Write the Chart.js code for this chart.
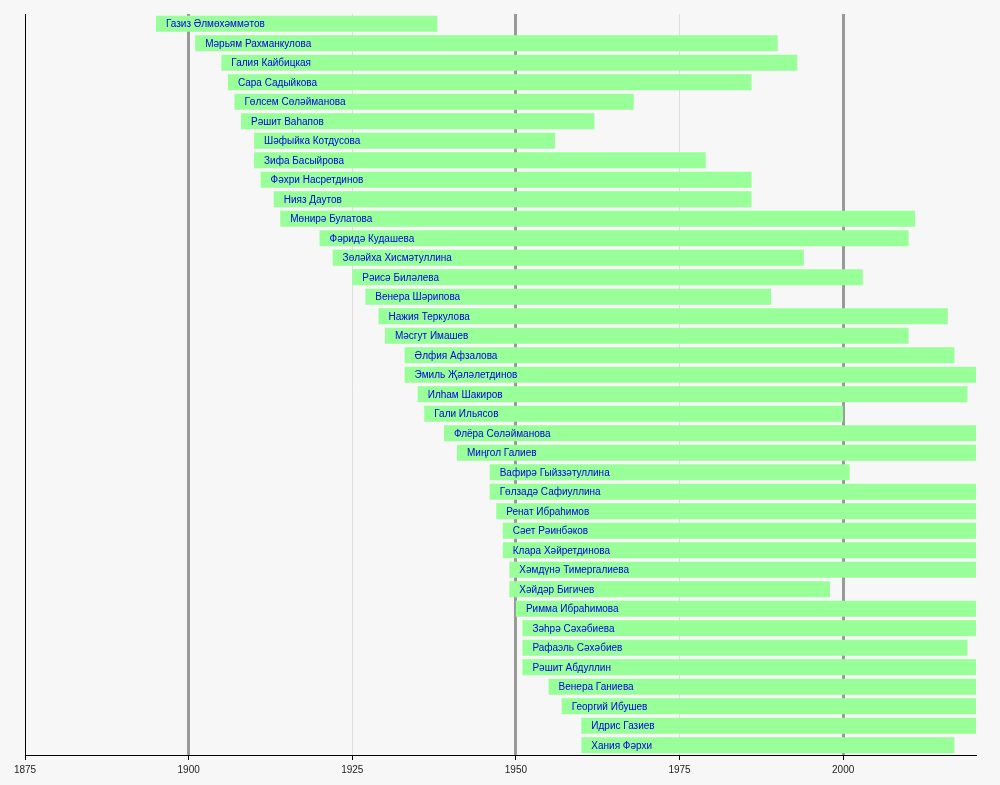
<!DOCTYPE html>
<html>
<head>
<meta charset="utf-8">
<script src="https://cdn.jsdelivr.net/npm/chart.js@4"></script>
<style>
html,body{margin:0;padding:0;background:#f7f7f7;}
#wrap{width:1000px;height:785px;position:relative;}
canvas{background:#f7f7f7;}
</style>
</head>
<body>
<div id="wrap"><canvas id="c"></canvas></div>
<script>
const NOW = 2020.3;
const names = [
  "Газиз Әлмөхәммәтов","Мәрьям Рахманкулова","Галия Кайбицкая","Сара Садыйкова","Гөлсем Сөләйманова",
  "Рәшит Ваһапов","Шәфыйка Котдусова","Зифа Басыйрова","Фәхри Насретдинов","Нияз Даутов",
  "Мөнирә Булатова","Фәридә Кудашева","Зөләйха Хисмәтуллина","Рәисә Биләлева","Венера Шәрипова",
  "Нажия Теркулова","Мәсгут Имашев","Әлфия Афзалова","Эмиль Җәләлетдинов","Илһам Шакиров",
  "Гали Ильясов","Флёра Сөләйманова","Миңгол Галиев","Вафирә Гыйззәтуллина","Гөлзадә Сафиуллина",
  "Ренат Ибраһимов","Сәет Рәинбәков","Клара Хәйретдинова","Хәмдүнә Тимергалиева","Хәйдәр Бигичев",
  "Римма Ибраһимова","Зәһрә Сәхәбиева","Рафаэль Сәхәбиев","Рәшит Абдуллин","Венера Ганиева",
  "Георгий Ибушев","Идрис Газиев","Хания Фәрхи"
];
const startYears = [
  1895,1901,1905,1906,1907,1908,1910,1910,1911,1913,
  1914,1920,1922,1925,1927,1929,1930,1933,1933,1935,
  1936,1939,1941,1946,1946,1947,1948,1948,1949,1949,
  1950,1951,1951,1951,1955,1957,1960,1960
];
const endYears = [
  1938,1990,1993,1986,1968,1962,1956,1979,1986,1986,
  2011,2010,1994,2003,1989,2016,2010,2017,NOW,2019,
  2000,NOW,NOW,2001,NOW,NOW,NOW,NOW,NOW,1998,
  NOW,NOW,2019,NOW,NOW,NOW,NOW,2017
];
const axisMin = 1875, axisMax = NOW, tickStep = 25;
const majorYears = [1900, 1950, 2000];

const spans = startYears.map((s, i) => [s, endYears[i]]);

const labelPlugin = {
  id: 'barLabels',
  afterDatasetsDraw(chart) {
    const ctx = chart.ctx;
    const meta = chart.getDatasetMeta(0);
    const xs = chart.scales.x;
    ctx.save();
    ctx.font = '10px "Liberation Sans", Arial, sans-serif';
    ctx.fillStyle = '#0000e0';
    ctx.textBaseline = 'middle';
    ctx.textAlign = 'left';
    meta.data.forEach((bar, i) => {
      const x = xs.getPixelForValue(startYears[i]) + 10;
      ctx.fillText(names[i], x, bar.y + 0.5);
    });
    ctx.restore();
  }
};

new Chart(document.getElementById('c'), {
  type: 'bar',
  data: {
    labels: names,
    datasets: [{
      data: spans,
      backgroundColor: '#99ff99',
      borderWidth: 0,
      borderSkipped: false,
      categoryPercentage: 1.0,
      barPercentage: 0.82
    }]
  },
  options: {
    indexAxis: 'y',
    responsive: true,
    maintainAspectRatio: false,
    animation: false,
    layout: { padding: { left: 25, right: 24, top: 14, bottom: 5 } },
    plugins: { legend: { display: false }, tooltip: { enabled: false } },
    scales: {
      x: {
        type: 'linear',
        min: axisMin,
        max: axisMax,
        border: { display: true, color: '#000', width: 1 },
        grid: {
          color: c => (c.tick && majorYears.includes(c.tick.value)) ? '#999999' : (c.tick && c.tick.value === axisMin ? 'rgba(0,0,0,0)' : '#dddddd'),
          lineWidth: c => (c.tick && majorYears.includes(c.tick.value)) ? 3 : 1,
          tickColor: '#000',
          tickWidth: 1,
          tickLength: 5
        },
        ticks: {
          stepSize: tickStep,
          includeBounds: false,
          autoSkip: false,
          maxRotation: 0,
          color: '#222',
          padding: 4,
          font: { family: '"Liberation Sans", Arial, sans-serif', size: 10 },
          callback: v => String(v)
        }
      },
      y: {
        display: true,
        border: { display: true, color: '#000', width: 1 },
        grid: { display: false, drawTicks: false },
        ticks: { display: false }
      }
    }
  },
  plugins: [labelPlugin]
});
</script>
</body>
</html>
